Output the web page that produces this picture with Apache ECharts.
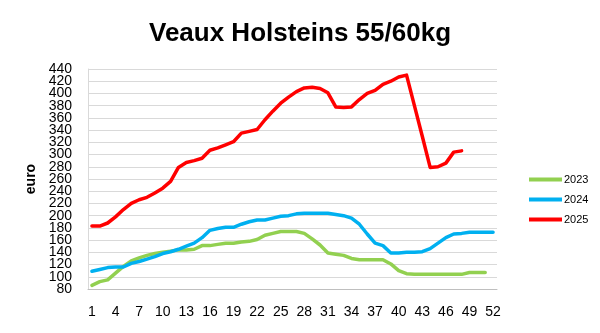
<!DOCTYPE html>
<html><head><meta charset="utf-8">
<script src="https://cdn.jsdelivr.net/npm/echarts@6/dist/echarts.min.js"></script>
<style>html,body{margin:0;padding:0;background:#fff}#c{width:600px;height:333px}</style>
</head><body><div id="c"></div>
<script>
const weeks = Array.from({length:52},(_,i)=>String(i+1));
const yTicks = [80,100,120,140,160,180,200,220,240,260,280,300,320,340,360,380,400,420,440];
const s2023 = [86,92,95,106,117,126,131,135,138,140,142,144,144,145,151,151,153,155,155,157,158,161,168,171,174,174,174,171,162,152,139,137,135,130,128,128,128,128,121,110,105,104,104,104,104,104,104,104,107,107,107,null];
const s2024 = [109,112,115,116,116,122,125,129,133,138,141,145,150,155,164,176,179,181,181,186,190,193,193,196,199,200,203,204,204,204,204,202,200,196,186,170,155,151,139,139,140,140,141,146,155,164,170,171,173,173,173,173];
const s2025 = [183,183,188,198,210,220,226,230,237,245,256,279,287,290,294,307,311,316,321,335,338,341,357,371,384,394,403,409,410,408,401,378,377,378,390,400,405,415,420,427,430,380,330,279,280,286,304,306];
const names = ['2023','2024','2025'];
const colors = ['#92d050','#00b0f0','#ff0000'];
const font = "'Liberation Sans', Arial, sans-serif";
const yMin = yTicks[0], yMax = yTicks[yTicks.length-1];
function yAx(parity, extra){
  return Object.assign({type:'value',min:yMin,max:yMax,interval:20,position:'left',
    axisLine:{show:parity===0,lineStyle:{color:'#d9d9d9'}},axisTick:{show:false},
    splitLine:{show:parity===0,lineStyle:{color:'#d9d9d9',width:1}},
    axisLabel:{fontFamily:font,fontSize:14,color:'#000',margin:16,showMinLabel:true,showMaxLabel:true,
      formatter:v=>(((v-yMin)/20)%2===parity)?String(v):''}}, extra||{});
}
const chart = echarts.init(document.getElementById('c'));
chart.setOption({
  animation:false,
  title:{text:'Veaux Holsteins 55/60kg',left:'center',top:16,textStyle:{fontFamily:font,fontSize:26,fontWeight:'bold',color:'#000'}},
  grid:{left:88,right:103,top:69,bottom:44,containLabel:false},
  legend:{orient:'vertical',left:524,top:169,itemWidth:33,itemHeight:4,itemGap:9,icon:'rect',
    textStyle:{fontFamily:font,fontSize:11,color:'#000',padding:[0,0,0,-3]},data:names},
  xAxis:{type:'category',data:weeks,boundaryGap:true,
    axisLine:{lineStyle:{color:'#bfbfbf',width:1}},axisTick:{show:false},
    axisLabel:{interval:2,fontFamily:font,fontSize:14,color:'#000',margin:16}},
  yAxis:[
    yAx(0,{name:'euro',nameLocation:'middle',nameGap:50,nameRotate:90,
      nameTextStyle:{fontFamily:font,fontSize:14,fontWeight:'bold',color:'#000'}}),
    yAx(1)
  ],
  series:[s2023,s2024,s2025].map((d,i)=>({name:names[i],type:'line',data:d,yAxisIndex:0,smooth:false,showSymbol:false,
    lineStyle:{color:colors[i],width:3.5,join:'round',cap:'round'},itemStyle:{color:colors[i]}}))
});
</script></body></html>
